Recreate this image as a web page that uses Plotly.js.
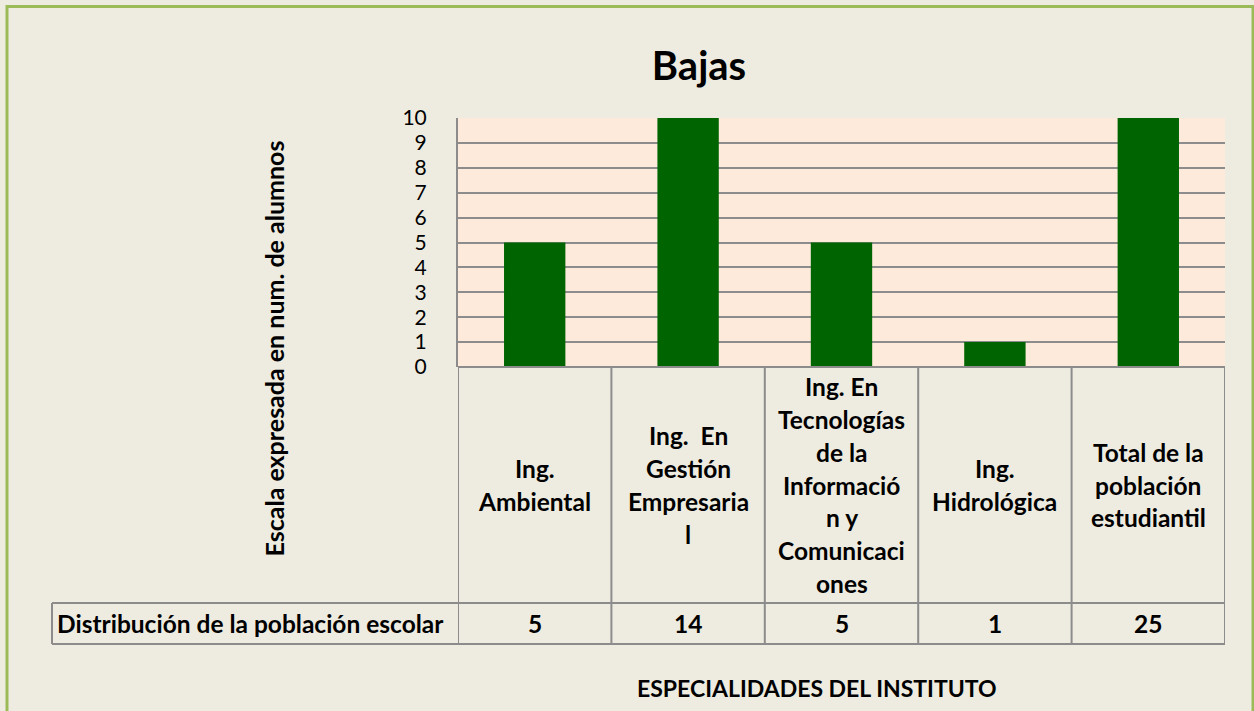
<!DOCTYPE html>
<html>
<head>
<meta charset="utf-8">
<script src="https://cdn.plot.ly/plotly-3.0.1.min.js"></script>
<style>
  html, body { margin: 0; padding: 0; background: #EEECE1; }
  #chart { width: 1254px; height: 711px; }
</style>
</head>
<body>
<div id="chart"></div>
<script>
// ---- Data ----
const categoryNames = [
  "Ing. Ambiental",
  "Ing.  En Gestión Empresarial",
  "Ing. En Tecnologías de la Información y Comunicaciones",
  "Ing. Hidrológica",
  "Total de la población estudiantil"
];
const categoryLabels = [
  "Ing.|Ambiental",
  "Ing.  En|Gestión|Empresaria|l",
  "Ing. En|Tecnologías|de la|Informació|n y|Comunicaci|ones",
  "Ing.|Hidrológica",
  "Total de la|población|estudiantil"
];
const seriesName = "Distribución de la población escolar";
const seriesValues = [5, 14, 5, 1, 25];
const yTickValues = [0, 1, 2, 3, 4, 5, 6, 7, 8, 9, 10];
const chartTitle = "Bajas";
const yTitle = "Escala expresada en num. de alumnos";
const xTitle = "ESPECIALIDADES DEL INSTITUTO";

// ---- Layout geometry (pixels) ----
const W = 1254, H = 711;
const L = 458, R = 29, T = 118, B = 344;
const plotW = W - L - R, plotH = H - T - B;
const py = Y => (H - B - Y) / plotH;   // pixel y -> paper y
const px = X => (X - L) / plotW;       // pixel x -> paper x

const FONT = "Lato, 'Open Sans', sans-serif";
const GRID = "#8c8c8c";
const labelSize = 24.5;
const lineGap = 32.7;

const rowTop = py(603), rowBot = py(644);
const n = categoryNames.length;

const shapes = [];
// outer border
shapes.push({type: "rect", xref: "paper", yref: "paper",
  x0: px(7), x1: px(1253), y0: py(760), y1: py(6.5),
  line: {color: "#9BBB59", width: 3}, fillcolor: "rgba(0,0,0,0)", layer: "below"});
// table vertical lines
for (let i = 0; i <= n; i++) {
  shapes.push({type: "line", xref: "x", yref: "paper",
    x0: i - 0.5, x1: i - 0.5, y0: 0, y1: rowBot,
    line: {color: GRID, width: 2}});
}
// table top (axis base)
shapes.push({type: "line", xref: "x", yref: "paper",
  x0: -0.5, x1: n - 0.5, y0: 0, y1: 0, line: {color: GRID, width: 2}});
// value row lines
[rowTop, rowBot].forEach(y => shapes.push({type: "line", xref: "paper", yref: "paper",
  x0: px(52), x1: 1, y0: y, y1: y, line: {color: GRID, width: 2}}));
shapes.push({type: "line", xref: "paper", yref: "paper",
  x0: px(52), x1: px(52), y0: rowTop, y1: rowBot, line: {color: GRID, width: 2}});

const annotations = [];
const labelCenter = py(485);
categoryLabels.forEach((lab, i) => {
  const lines = lab.split("|");
  lines.forEach((ln, k) => {
    annotations.push({xref: "x", yref: "paper", x: i, y: labelCenter,
      yshift: -(k - (lines.length - 1) / 2) * lineGap,
      text: "<b>" + ln + "</b>", showarrow: false,
      xanchor: "center", yanchor: "middle",
      font: {family: FONT, size: labelSize, color: "#000"}});
  });
});
const valueY = py(623.5);
seriesValues.forEach((v, i) => {
  annotations.push({xref: "x", yref: "paper", x: i, y: valueY,
    text: "<b>" + v + "</b>", showarrow: false, xanchor: "center", yanchor: "middle",
    font: {family: FONT, size: labelSize, color: "#000"}});
});
annotations.push({xref: "paper", yref: "paper", x: px(55), y: valueY,
  text: "<b>" + seriesName + "</b>", showarrow: false, xanchor: "left", yanchor: "middle",
  font: {family: FONT, size: labelSize, color: "#000"}});
// axis titles
annotations.push({xref: "paper", yref: "paper", x: px(273), y: py(348.5),
  text: "<b>" + yTitle + "</b>", textangle: -90, showarrow: false,
  xanchor: "center", yanchor: "middle",
  font: {family: FONT, size: 25, color: "#000"}});
annotations.push({xref: "paper", yref: "paper", x: px(817), y: py(688),
  text: "<b>" + xTitle + "</b>", showarrow: false,
  xanchor: "center", yanchor: "middle",
  font: {family: FONT, size: 23, color: "#000"}});

const trace = {
  type: "bar",
  x: categoryNames,
  y: seriesValues,
  name: seriesName,
  width: 0.4,
  marker: {color: "#006400", line: {width: 0}},
  hoverinfo: "x+y"
};

const layout = {
  width: W, height: H,
  margin: {l: L, r: R, t: T, b: B, pad: 0},
  paper_bgcolor: "#EEECE1",
  plot_bgcolor: "#FDEADA",
  font: {family: FONT, color: "#000"},
  showlegend: false,
  title: {text: "<b>" + chartTitle + "</b>", x: 699 / W, xanchor: "center",
    y: 1 - 66 / H, yanchor: "middle", yref: "container",
    font: {family: FONT, size: 40, color: "#000"}},
  xaxis: {type: "category", range: [-0.5, n - 0.5], showticklabels: false,
    showgrid: false, zeroline: false, showline: false, ticks: "", fixedrange: true},
  yaxis: {range: [0, 10], tickvals: yTickValues, showgrid: true, gridcolor: GRID, gridwidth: 2,
    zeroline: false, showline: true, linecolor: GRID, linewidth: 2, ticks: "",
    ticklabelstandoff: 25,
    tickfont: {family: FONT, size: 21, color: "#000"}, fixedrange: true},
  shapes: shapes,
  annotations: annotations
};

Plotly.newPlot("chart", [trace], layout, {displayModeBar: false, staticPlot: true});
</script>
</body>
</html>
